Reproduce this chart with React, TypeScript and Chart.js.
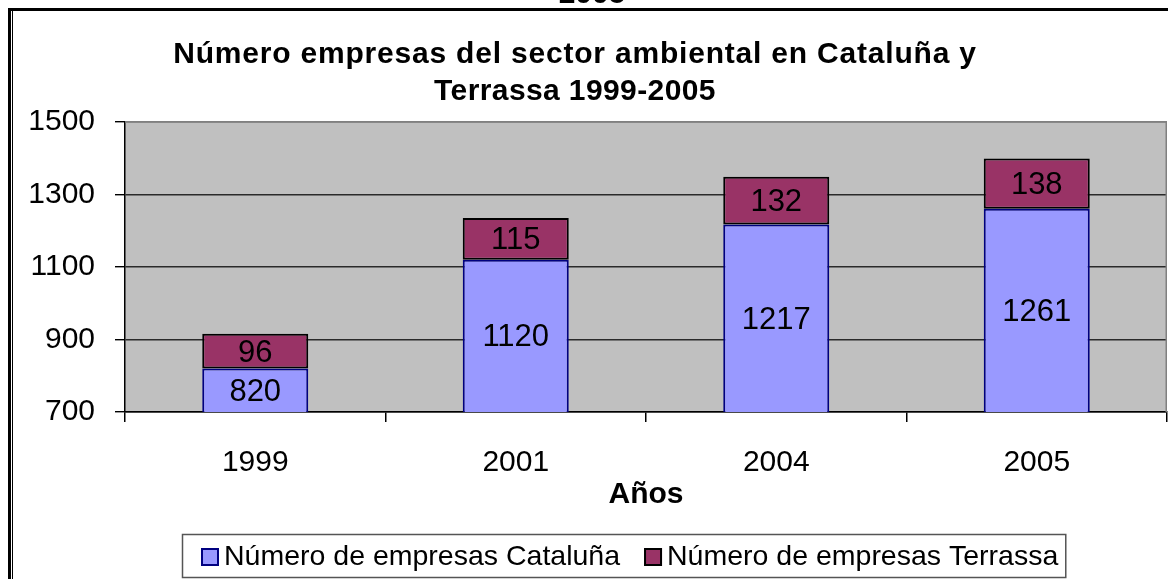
import React, { useEffect, useRef } from "react";
import { Chart, registerables } from "chart.js";

Chart.register(...registerables);

const years = ["1999", "2001", "2004", "2005"];
const cataluna = [820, 1120, 1217, 1261];
const terrassa = [96, 115, 132, 138];
const yTicks = [700, 900, 1100, 1300, 1500];
const titleLines = [
  "Número empresas del sector ambiental en Cataluña y",
  "Terrassa 1999-2005",
];
const seriesNames = ["Número de empresas Cataluña", "Número de empresas Terrassa"];
const seriesFill = ["#9999FF", "#993366"];
const seriesBorder = ["#000080", "#000000"];
const xTitle = "Años";
const topFragment = "2005";

const FONT = "'Liberation Sans', Arial, Helvetica, sans-serif";
const W = 1168;
const H = 579;

const backgroundPlugin = {
  id: "plotBackground",
  beforeDraw(chart: any) {
    const { ctx, chartArea } = chart;
    const { left, top, right, bottom } = chartArea;
    ctx.save();
    ctx.fillStyle = "#C0C0C0";
    ctx.fillRect(left, top, right - left, bottom - top);
    ctx.restore();
  },
  beforeDatasetsDraw(chart: any) {
    const { ctx, chartArea } = chart;
    const { left, top, right, bottom } = chartArea;
    ctx.save();
    ctx.strokeStyle = "#808080";
    ctx.lineWidth = 1.5;
    ctx.beginPath();
    ctx.moveTo(left, top);
    ctx.lineTo(right - 0.75, top);
    ctx.lineTo(right - 0.75, bottom);
    ctx.stroke();
    ctx.restore();
  },
};

const valueLabelPlugin = {
  id: "valueLabels",
  afterDatasetsDraw(chart: any) {
    const { ctx, chartArea } = chart;
    ctx.save();
    ctx.font = `31px ${FONT}`;
    ctx.fillStyle = "#000";
    ctx.textAlign = "center";
    ctx.textBaseline = "middle";
    chart.data.datasets.forEach((ds: any, di: number) => {
      const meta = chart.getDatasetMeta(di);
      meta.data.forEach((el: any, i: number) => {
        const p = el.getProps(["x", "y", "base"], true);
        const b = Math.min(p.base, chartArea.bottom);
        const t = Math.max(p.y, chartArea.top);
        ctx.fillText(String(ds.data[i]), p.x, (b + t) / 2 + 2);
      });
    });
    ctx.restore();
  },
};

const titlePlugin = {
  id: "customTitle",
  afterDraw(chart: any) {
    const { ctx } = chart;
    ctx.save();
    ctx.fillStyle = "#000";
    ctx.textAlign = "center";
    ctx.textBaseline = "alphabetic";
    ctx.font = `bold 30px ${FONT}`;
    (ctx as any).letterSpacing = "0.8px";
    ctx.fillText(titleLines[0], 575, 63);
    (ctx as any).letterSpacing = "0.4px";
    ctx.fillText(titleLines[1], 575, 100);
    (ctx as any).letterSpacing = "0px";
    ctx.fillText(topFragment, 592, 3);
    ctx.restore();
  },
};

const legendPlugin = {
  id: "boxedLegend",
  afterDraw(chart: any) {
    const { ctx } = chart;
    ctx.save();
    ctx.font = `28.5px ${FONT}`;
    const widths = seriesNames.map((n) => ctx.measureText(n).width);
    const padL = 19;
    const sq = 18;
    const gap = 5;
    const between = 24;
    const padR = 7;
    const boxLeft = 182;
    const boxTop = 534;
    const boxH = 43;
    let total = padL + padR;
    widths.forEach((w, i) => {
      total += sq + gap + w + (i > 0 ? between : 0);
    });
    ctx.fillStyle = "#fff";
    ctx.fillRect(boxLeft, boxTop, total, boxH);
    ctx.strokeStyle = "#555";
    ctx.lineWidth = 1.5;
    ctx.strokeRect(boxLeft + 0.5, boxTop + 0.5, total, boxH);
    let x = boxLeft + padL;
    const cy = 557;
    chart.data.datasets.forEach((ds: any, i: number) => {
      ctx.fillStyle = ds.backgroundColor;
      ctx.fillRect(x, cy - sq / 2, sq, sq);
      ctx.strokeStyle = ds.borderColor;
      ctx.lineWidth = 2;
      ctx.strokeRect(x + 1, cy - sq / 2 + 1, sq - 2, sq - 2);
      ctx.fillStyle = "#000";
      ctx.textAlign = "left";
      ctx.textBaseline = "middle";
      ctx.fillText(ds.label, x + sq + gap, cy);
      x += sq + gap + widths[i] + between;
    });
    ctx.restore();
  },
};

export default function App() {
  const ref = useRef<HTMLCanvasElement | null>(null);

  useEffect(() => {
    if (!ref.current) return;
    Chart.defaults.font.family = FONT;
    const chart = new Chart(ref.current, {
      type: "bar",
      data: {
        labels: years,
        datasets: [
          {
            label: seriesNames[0],
            data: cataluna,
            backgroundColor: seriesFill[0],
            borderColor: seriesBorder[0],
            borderWidth: 2,
            borderSkipped: false,
            barPercentage: 0.407,
            categoryPercentage: 1,
            clip: 0,
          },
          {
            label: seriesNames[1],
            data: terrassa,
            backgroundColor: seriesFill[1],
            borderColor: seriesBorder[1],
            borderWidth: 2,
            borderSkipped: false,
            barPercentage: 0.407,
            categoryPercentage: 1,
            clip: 0,
          },
        ],
      },
      options: {
        responsive: false,
        animation: false,
        devicePixelRatio: 1,
        layout: { padding: { left: 0, right: 1, top: 122, bottom: 66 } },
        plugins: {
          legend: { display: false },
          title: { display: false },
          tooltip: { enabled: false },
        },
        scales: {
          x: {
            stacked: true,
            grid: {
              display: true,
              drawOnChartArea: false,
              drawTicks: true,
              tickLength: 10,
              color: "#000",
              offset: true,
              lineWidth: 1.5,
            },
            border: { display: true, color: "#000", width: 1.5 },
            ticks: {
              color: "#000",
              font: { size: 30 },
              padding: 23,
              maxRotation: 0,
              autoSkip: false,
            },
            title: {
              display: true,
              text: xTitle,
              color: "#000",
              font: { size: 30, weight: "bold" },
              padding: { top: 0, bottom: 0 },
            },
            afterFit: (s: any) => {
              s.height = 101;
            },
          },
          y: {
            stacked: true,
            min: 700,
            max: 1500,
            afterBuildTicks: (s: any) => {
              s.ticks = yTicks.map((v) => ({ value: v }));
            },
            grid: {
              color: (c: any) =>
                c.tick && c.tick.value === 1500 ? "#808080" : "#2a2a2a",
              tickColor: "#000",
              tickLength: 10,
              lineWidth: 1.4,
            },
            border: { display: true, color: "#000", width: 1.5 },
            ticks: {
              color: "#000",
              font: { size: 30 },
              padding: 20,
              callback: (v: any) => String(v),
            },
            afterFit: (s: any) => {
              s.width = 125;
            },
          },
        },
      } as any,
      plugins: [backgroundPlugin, valueLabelPlugin, titlePlugin, legendPlugin],
    });
    return () => chart.destroy();
  }, []);

  return (
    <div
      style={{
        position: "fixed",
        left: 0,
        top: 0,
        width: W,
        height: H,
        overflow: "hidden",
        background: "#fff",
      }}
    >
      <canvas
        ref={ref}
        width={W}
        height={H}
        style={{ position: "absolute", left: 0, top: 0, width: W, height: H }}
      />
      <div style={{ position: "absolute", left: 8, top: 8, width: W, height: 3, background: "#000" }} />
      <div style={{ position: "absolute", left: 8, top: 8, width: 3, height: H, background: "#000" }} />
      <div style={{ position: "absolute", left: 12, top: 11, width: 1, height: H, background: "#000" }} />
    </div>
  );
}
